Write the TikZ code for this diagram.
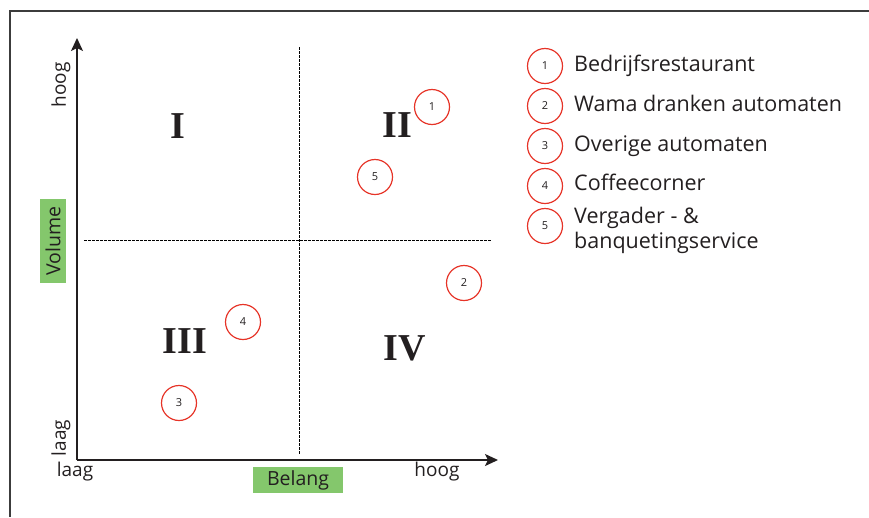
\documentclass[tikz,border=0pt]{standalone}
\usepackage{fontspec}
\setmainfont{Open Sans}
\newfontfamily\romfont{Liberation Serif}
\usetikzlibrary{arrows.meta,positioning}
\definecolor{LabelGreen}{RGB}{132,199,108}
\definecolor{MarkRed}{RGB}{230,52,40}
\definecolor{InkGray}{RGB}{35,31,32}
\definecolor{FrameGray}{RGB}{60,60,60}

\begin{document}
\begin{tikzpicture}[x=1pt,y=-1pt,>={Stealth[length=13pt,width=12pt,inset=3pt]},
  every node/.style={text=InkGray},
  spot/.style={circle,draw=MarkRed,line width=1.2pt,minimum size=35pt,inner sep=0pt,font=\fontsize{11}{13}\selectfont},
  quad/.style={font=\romfont\bfseries\fontsize{38}{40}\selectfont},
  axislabel/.style={font=\fontsize{19}{21}\selectfont},
  greenbox/.style={fill=LabelGreen,inner sep=0pt,font=\fontsize{19.5}{21}\selectfont},
  legend/.style={anchor=base west,inner sep=0pt,font=\fontsize{21.5}{25}\selectfont,align=left},
  quadline/.style={line width=0.9pt,dash pattern=on 2.5pt off 1.5pt}]
\useasboundingbox (0,0) rectangle (869,517);
% frame
\draw[FrameGray,line width=2pt] (869,10.5) -- (9.5,10.5) -- (9.5,517);
% axes
\coordinate (origin) at (77,460);
\coordinate (ytop) at (77,38);
\coordinate (xend) at (498,460);
\draw[->,InkGray,line width=1.5pt] (origin) -- (ytop);
\draw[->,InkGray,line width=1.5pt] (origin) -- (xend);
% quadrant lines
\coordinate (vtop) at (299,47);
\coordinate (vbot) at (299,454);
\coordinate (hleft) at (84,240);
\coordinate (hright) at (491,240);
\draw[quadline] (vtop) -- (vbot);
\draw[quadline] (hleft) -- (hright);
% axis labels
\node[axislabel,rotate=90] (yhigh) at (61,85){hoog};
\node[axislabel,rotate=90] (ylow) at (61,438){laag};
\node[greenbox,rotate=90,minimum width=84pt,minimum height=26pt] (vol) at (53,241){Volume};
\node[axislabel] (xlow) at (75,472){laag};
\node[axislabel] (xhigh) at (437,472){hoog};
\node[greenbox,minimum width=90pt,minimum height=26pt] (bel) at (298,480){Belang};
% quadrants
\node[quad] (q1) at (178,126){I};
\node[quad] (q2) at (397,125){II};
\node[quad] (q3) at (185,341){III};
\node[quad] (q4) at (405,348){IV};
% spots
\node[spot] (p1) at (432,107){1};
\node[spot] (p2) at (464,283){2};
\node[spot] (p3) at (179,403){3};
\node[spot] (p4) at (243,322){4};
\node[spot] (p5) at (375,177){5};
% legend
\node[spot] (k1) at (545,66){1};
\node[spot] (k2) at (545,106){2};
\node[spot] (k3) at (545,146){3};
\node[spot] (k4) at (545,186){4};
\node[spot] (k5) at (545,226){5};
\node[legend] (t1) at (574,71){Bedrijfsrestaurant};
\node[legend] (t2) at (574,111){Wama dranken automaten};
\node[legend] (t3) at (574,151){Overige automaten};
\node[legend] (t4) at (574,190){Coffeecorner};
\node[legend] (t5) at (574,248){Vergader - \&\\banquetingservice};
\end{tikzpicture}
\end{document}
